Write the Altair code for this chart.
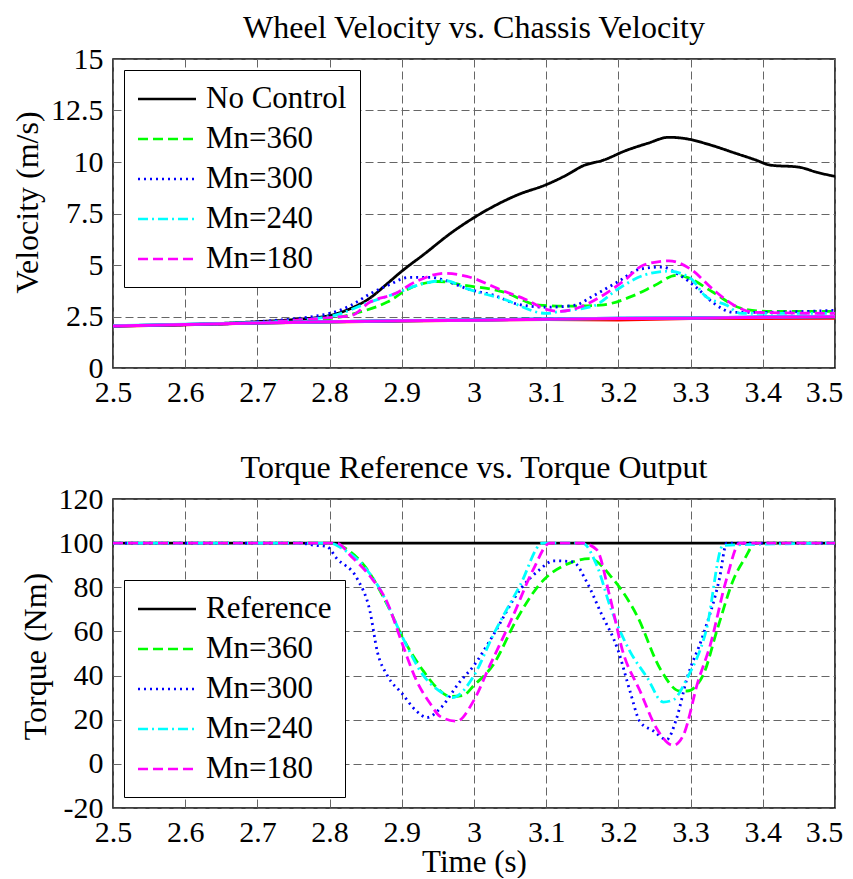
import altair as alt
import pandas as pd

FONT = "Liberation Serif"

# ---------------- Top chart data: wheel velocities ----------------
t_nc = [2.5, 2.6, 2.7, 2.75, 2.8, 2.83, 2.856, 2.88, 2.9, 2.93, 2.97, 3.0, 3.03, 3.06, 3.1, 3.13,
        3.15, 3.18, 3.21, 3.24, 3.27, 3.29, 3.33, 3.36, 3.39, 3.41, 3.45, 3.475, 3.5]
v_nc = [2.05, 2.1, 2.25, 2.35, 2.55, 2.9, 3.4, 4.1, 4.7, 5.5, 6.6, 7.3, 7.9, 8.4, 8.9, 9.4,
        9.8, 10.1, 10.55, 10.9, 11.2, 11.15, 10.8, 10.45, 10.1, 9.85, 9.75, 9.5, 9.3]

t_360 = [2.5, 2.6, 2.7, 2.8, 2.84, 2.88, 2.91, 2.95, 2.99, 3.04, 3.09, 3.13, 3.175, 3.22, 3.25,
         3.28, 3.295, 3.33, 3.37, 3.405, 3.5]
v_360 = [2.05, 2.1, 2.2, 2.4, 2.7, 3.2, 3.85, 4.2, 4.0, 3.7, 3.05, 3.0, 3.05, 3.5, 4.0,
         4.5, 4.4, 3.7, 2.9, 2.75, 2.75]

t_300 = [2.5, 2.6, 2.7, 2.8, 2.83, 2.856, 2.88, 2.91, 2.94, 2.96, 2.99, 3.03, 3.06, 3.1, 3.14,
         3.165, 3.2, 3.23, 3.26, 3.285, 3.31, 3.33, 3.36, 3.39, 3.5]
v_300 = [2.05, 2.1, 2.25, 2.65, 3.05, 3.6, 4.0, 4.4, 4.4, 4.25, 3.85, 3.5, 3.1, 2.95, 3.05,
         3.5, 4.2, 4.8, 4.9, 4.5, 3.85, 3.2, 2.7, 2.7, 2.8]

t_240 = [2.5, 2.6, 2.7, 2.8, 2.856, 2.89, 2.92, 2.96, 2.99, 3.04, 3.1, 3.12, 3.165, 3.2, 3.235,
         3.27, 3.3, 3.32, 3.35, 3.37, 3.5]
v_240 = [2.05, 2.1, 2.2, 2.5, 3.2, 3.6, 4.0, 4.25, 3.85, 3.35, 2.65, 2.75, 3.0, 3.85, 4.5,
         4.7, 4.35, 3.5, 3.05, 2.65, 2.65]

t_180 = [2.5, 2.6, 2.7, 2.8, 2.83, 2.856, 2.89, 2.92, 2.96, 2.99, 3.04, 3.07, 3.1, 3.12, 3.15,
         3.175, 3.21, 3.235, 3.27, 3.3, 3.33, 3.36, 3.39, 3.5]
v_180 = [2.05, 2.1, 2.2, 2.45, 2.55, 3.2, 3.6, 4.2, 4.6, 4.45, 3.75, 3.35, 2.85, 2.75, 3.0,
         3.45, 4.3, 5.0, 5.2, 4.8, 3.85, 3.05, 2.7, 2.65]

# chassis velocities (solid, not in legend)
t_ch = [2.5, 2.6, 2.7, 2.8, 2.9, 3.0, 3.1, 3.2, 3.3, 3.4, 3.5]
ch_red = [2.03, 2.1, 2.18, 2.23, 2.28, 2.32, 2.36, 2.33, 2.4, 2.4, 2.42]
ch_green = [2.04, 2.11, 2.19, 2.24, 2.29, 2.33, 2.37, 2.4, 2.42, 2.46, 2.48]
ch_blue = [2.04, 2.11, 2.19, 2.24, 2.29, 2.33, 2.38, 2.41, 2.43, 2.47, 2.49]
ch_cyan = [2.05, 2.12, 2.2, 2.25, 2.3, 2.33, 2.38, 2.41, 2.43, 2.47, 2.5]
ch_magenta = [2.04, 2.11, 2.19, 2.24, 2.29, 2.32, 2.37, 2.4, 2.42, 2.46, 2.49]

# ---------------- Bottom chart data: torque ----------------
t_ref = [2.5, 3.5]
q_ref = [100, 100]

tq_360 = [2.5, 2.8, 2.82, 2.85, 2.88, 2.9, 2.93, 2.95, 2.967, 2.985, 3.0, 3.026, 3.06, 3.09,
          3.137, 3.16, 3.192, 3.226, 3.258, 3.285, 3.295, 3.317, 3.337, 3.36, 3.375, 3.39, 3.5]
q_360 = [100, 100, 98, 89, 72, 58, 42, 34, 30.5, 31, 35.6, 44.6, 66, 81,
         91.5, 93, 84, 67, 43, 33, 33, 40, 61, 84, 93, 100, 100]

tq_300 = [2.5, 2.76, 2.78, 2.796, 2.81, 2.838, 2.856, 2.866, 2.88, 2.9, 2.92, 2.935, 2.953, 2.98,
          3.0, 3.026, 3.064, 3.091, 3.11, 3.137, 3.156, 3.175, 3.2, 3.216, 3.23, 3.248, 3.267,
          3.28, 3.295, 3.317, 3.34, 3.35, 3.5]
q_300 = [100, 100, 99, 98.5, 93, 84, 69, 51, 40, 32, 24, 21, 25, 37,
         44.6, 58, 79, 88, 92, 91.5, 82.5, 69, 51, 33, 19, 15, 11,
         20, 38.7, 58, 84, 100, 100]

tq_240 = [2.5, 2.8, 2.82, 2.842, 2.87, 2.9, 2.93, 2.957, 2.97, 3.0, 3.026, 3.064, 3.095, 3.15,
          3.17, 3.19, 3.216, 3.24, 3.262, 3.276, 3.295, 3.322, 3.345, 3.5]
q_240 = [100, 100, 97, 91.5, 79, 58, 40, 32, 30, 40, 58, 81, 100, 100,
         90, 70, 51, 39, 28, 29, 38.7, 61, 99, 100]

tq_180 = [2.5, 2.81, 2.83, 2.856, 2.88, 2.9, 2.92, 2.94, 2.953, 2.976, 2.999, 3.022, 3.054, 3.082,
          3.105, 3.15, 3.17, 3.188, 3.206, 3.23, 3.253, 3.276, 3.29, 3.31, 3.327, 3.35, 3.368, 3.5]
q_180 = [100, 100, 94, 85, 73, 55, 38, 27, 21.5, 19.3, 28.3, 44.6, 67, 88,
         100, 100, 97, 76, 51, 33, 16, 8.4, 13, 37, 53.6, 84, 100, 100]

# ---------------- Style tables ----------------
top_names = ["No Control", "Mn=360", "Mn=300", "Mn=240", "Mn=180"]
bot_names = ["Reference", "Mn=360", "Mn=300", "Mn=240", "Mn=180"]
colors = ["#000000", "#00ff00", "#0000ff", "#00ffff", "#ff00ff"]
dashes = [[1, 0], [10, 5], [2, 4], [10, 4, 2, 4], [10, 5]]
chassis_colors = ["#ff0000", "#00ff00", "#0000ff", "#00ffff", "#ff00ff"]

x_ticks = [2.5, 2.6, 2.7, 2.8, 2.9, 3.0, 3.1, 3.2, 3.3, 3.4, 3.5]
y_ticks_top = [0, 2.5, 5, 7.5, 10, 12.5, 15]
y_ticks_bot = [-20, 0, 20, 40, 60, 80, 100, 120]


def long_df(names, ts, vs):
    rows = []
    for i, (n, t, v) in enumerate(zip(names, ts, vs)):
        for a, b in zip(t, v):
            rows.append({"series": n, "order": i, "t": a, "v": b})
    return pd.DataFrame(rows)


top_df = long_df(top_names, [t_nc, t_360, t_300, t_240, t_180], [v_nc, v_360, v_300, v_240, v_180])
bot_df = long_df(bot_names, [t_ref, tq_360, tq_300, tq_240, tq_180], [q_ref, q_360, q_300, q_240, q_180])
ch_df = long_df(["red", "green", "blue", "cyan", "magenta"], [t_ch] * 5,
                [ch_red, ch_green, ch_blue, ch_cyan, ch_magenta])

W, H = 722, 309


def legend_obj(orient):
    return alt.Legend(
        title=None, orient=orient, offset=11,
        symbolType="M-2,0L2,0", symbolSize=841, symbolOffset=14,
        symbolStrokeWidth=2.5, labelFontSize=31, labelFont=FONT,
        labelColor="black", strokeColor="black", fillColor="white", padding=13,
        rowPadding=9, labelOffset=23, cornerRadius=0, labelLimit=400,
    )


def x_enc(title, label_pad, title_pad):
    return alt.X("t:Q", scale=alt.Scale(domain=[2.5, 3.5], nice=False),
                 axis=alt.Axis(values=x_ticks, format="~g", title=title, labelFlush=False,
                               labelOverlap=False, labelPadding=label_pad, titlePadding=title_pad,
                               labelOffset={"condition": {"test": "datum.value >= 3.5", "value": -11},
                                            "value": 0}))


def series_chart(df, names, ydom, yticks, ytitle, xtitle, orient, label_pad, title_pad, title_y):
    return alt.Chart(df).mark_line(strokeWidth=2.8, clip=True, interpolate="monotone").encode(
        x=x_enc(xtitle, label_pad, title_pad),
        y=alt.Y("v:Q", scale=alt.Scale(domain=ydom, nice=False),
                axis=alt.Axis(values=yticks, title=ytitle, labelFlush=False, labelOverlap=False,
                              titleY=title_y,
                              labelExpr="datum.value < 0 ? '-' + format(-datum.value, '~g') : format(datum.value, '~g')")),
        color=alt.Color("series:N", scale=alt.Scale(domain=names, range=colors), legend=legend_obj(orient)),
        strokeDash=alt.StrokeDash("series:N", scale=alt.Scale(domain=names, range=dashes),
                                  legend=legend_obj(orient)),
        order="order:Q",
    )


top_lines = series_chart(top_df, top_names, [0, 15], y_ticks_top, "Velocity (m/s)", None,
                         "top-left", 9, 0, 143)
chassis_layers = []
for name, col in zip(["red", "green", "blue", "cyan", "magenta"], chassis_colors):
    chassis_layers.append(
        alt.Chart(ch_df[ch_df["series"] == name]).mark_line(strokeWidth=3, clip=True, color=col).encode(
            x=alt.X("t:Q", scale=alt.Scale(domain=[2.5, 3.5], nice=False)),
            y=alt.Y("v:Q", scale=alt.Scale(domain=[0, 15], nice=False)),
        )
    )

top = alt.layer(top_lines, *chassis_layers).properties(
    width=W, height=H,
    title=alt.TitleParams("Wheel Velocity vs. Chassis Velocity", offset=-1),
)

bottom = series_chart(bot_df, bot_names, [-20, 120], y_ticks_bot, "Torque (Nm)", "Time (s)",
                      "bottom-left", 9, 0, 157).properties(
    width=W, height=H,
    title=alt.TitleParams("Torque Reference vs. Torque Output", offset=-1),
)

chart = alt.vconcat(top, bottom, spacing=43).resolve_scale(
    color="independent", strokeDash="independent"
).configure(
    font=FONT, padding={"left": 2, "top": 3, "right": 0, "bottom": 0},
).configure_view(
    stroke="black", strokeWidth=1.5,
).configure_axis(
    labelFont=FONT, labelFontSize=30, labelColor="black",
    titleFont=FONT, titleFontSize=32, titleFontWeight="normal", titleColor="black", titlePadding=6,
    grid=True, gridDash=[8, 4], gridColor="#666666", gridWidth=1, gridOpacity=1,
    ticks=False, domain=False,
).configure_axisX(
    titleFontSize=31,
).configure_axisY(
    labelPadding=10,
).configure_title(
    font=FONT, fontSize=32, fontWeight="normal", color="black", anchor="middle",
)

chart.save("out.html", embed_options={"renderer": "svg", "actions": False})
